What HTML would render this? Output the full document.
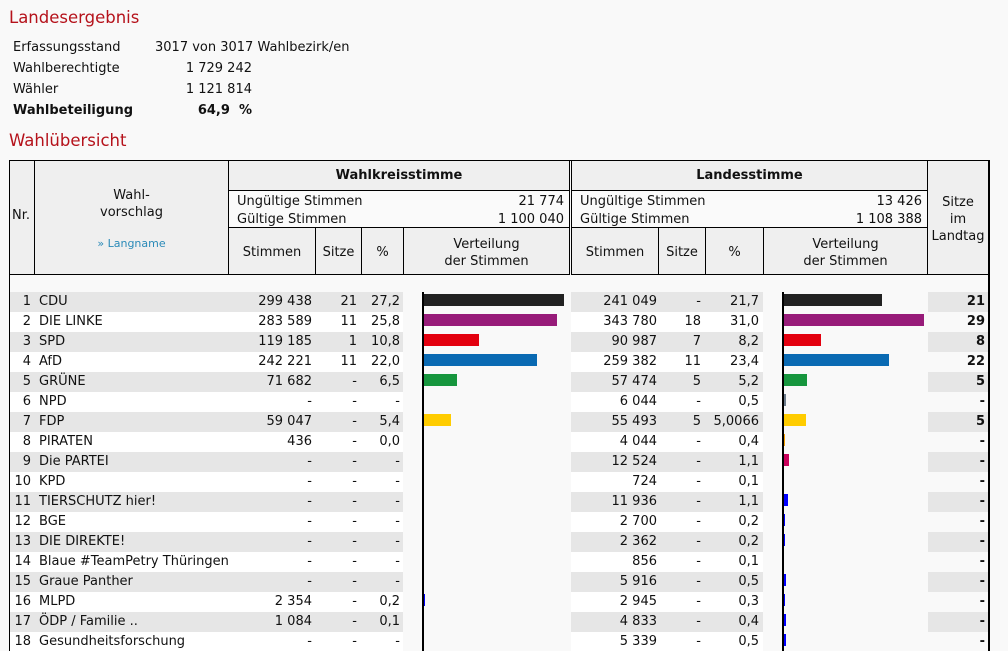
<!DOCTYPE html>
<html><head><meta charset="utf-8"><style>
html,body{margin:0;height:651px;overflow:hidden}
body{width:1008px;background:#f9f9f9;font-family:"DejaVu Sans","Liberation Sans",sans-serif;font-size:13px;color:#111;position:relative}
.a{position:absolute;white-space:nowrap}
h{position:absolute;color:#b5121b;font-size:16.5px;left:9px}
.b{position:absolute;border:1px solid #000;box-sizing:border-box;background:#efefef}
.r{position:absolute;left:0;width:1008px;height:20px;line-height:20px}
.r span{position:absolute;white-space:nowrap}
.g1,.g2,.g3{position:absolute;top:0;height:20px}
.g1{left:10px;width:393px}.g2{left:571px;width:192px}.g3{left:928px;width:60px}
.sh .g1,.sh .g2,.sh .g3{background:#e6e6e6}
.ns .g1,.ns .g2{background:#fff}
.n{left:0;width:31px;text-align:right}.p{left:39px}
.s1{left:228px;width:84px;text-align:right}.z1{left:315px;width:42px;text-align:right}.q1{left:361px;width:39px;text-align:right}
.s2{left:571px;width:86px;text-align:right}.z2{left:658px;width:43px;text-align:right}.q2{left:705px;width:54px;text-align:right}
.t{left:928px;width:57px;text-align:right;font-weight:bold}
.bar{position:absolute;height:12px}
</style></head><body>
<h style="top:8px">Landesergebnis</h>
<div class="a" style="left:13px;top:40px">Erfassungsstand</div><div class="a" style="left:155px;top:40px">3017 von 3017 Wahlbezirk/en</div>
<div class="a" style="left:13px;top:61px">Wahlberechtigte</div><div class="a" style="left:150px;top:61px;width:102px;text-align:right">1 729 242</div>
<div class="a" style="left:13px;top:82px">Wähler</div><div class="a" style="left:150px;top:82px;width:102px;text-align:right">1 121 814</div>
<div class="a" style="left:13px;top:103px;font-weight:bold">Wahlbeteiligung</div><div class="a" style="left:150px;top:103px;width:102px;text-align:right;font-weight:bold">64,9&nbsp; %</div>
<h style="top:131px">Wahlübersicht</h>

<div class="b" style="left:9px;top:160px;width:981px;height:491px;background:#f9f9f9;border-width:1px 2px 0 1px"></div>
<div class="b" style="left:9px;top:160px;width:26px;height:115px"></div>
<div class="a" style="left:12px;top:208px">Nr.</div>
<div class="b" style="left:34px;top:160px;width:195px;height:115px"></div>
<div class="a" style="left:34px;top:187px;width:195px;text-align:center;line-height:17px">Wahl-<br>vorschlag</div>
<div class="a" style="left:34px;top:237px;width:195px;text-align:center;color:#2a8ab8;font-size:11px">» Langname</div>
<div class="b" style="left:228px;top:160px;width:342px;height:31px"></div>
<div class="a" style="left:228px;top:168px;width:342px;text-align:center;font-weight:bold">Wahlkreisstimme</div>
<div class="b" style="left:228px;top:190px;width:342px;height:38px;background:#fafafa"></div>
<div class="a" style="left:237px;top:193px;line-height:18px">Ungültige Stimmen<br>Gültige Stimmen</div>
<div class="a" style="left:440px;top:193px;width:124px;text-align:right;line-height:18px">21 774<br>1 100 040</div>
<div class="b" style="left:228px;top:227px;width:88px;height:48px"></div><div class="a" style="left:228px;top:245px;width:88px;text-align:center">Stimmen</div>
<div class="b" style="left:315px;top:227px;width:47px;height:48px"></div><div class="a" style="left:315px;top:245px;width:47px;text-align:center">Sitze</div>
<div class="b" style="left:361px;top:227px;width:43px;height:48px"></div><div class="a" style="left:361px;top:245px;width:43px;text-align:center">%</div>
<div class="b" style="left:403px;top:227px;width:167px;height:48px"></div><div class="a" style="left:403px;top:236px;width:167px;text-align:center;line-height:17px">Verteilung<br>der Stimmen</div>

<div class="b" style="left:571px;top:160px;width:357px;height:31px"></div>
<div class="a" style="left:571px;top:168px;width:357px;text-align:center;font-weight:bold">Landesstimme</div>
<div class="b" style="left:571px;top:190px;width:357px;height:38px;background:#fafafa"></div>
<div class="a" style="left:580px;top:193px;line-height:18px">Ungültige Stimmen<br>Gültige Stimmen</div>
<div class="a" style="left:780px;top:193px;width:142px;text-align:right;line-height:18px">13 426<br>1 108 388</div>
<div class="b" style="left:571px;top:227px;width:88px;height:48px"></div><div class="a" style="left:571px;top:245px;width:88px;text-align:center">Stimmen</div>
<div class="b" style="left:658px;top:227px;width:48px;height:48px"></div><div class="a" style="left:658px;top:245px;width:48px;text-align:center">Sitze</div>
<div class="b" style="left:705px;top:227px;width:59px;height:48px"></div><div class="a" style="left:705px;top:245px;width:59px;text-align:center">%</div>
<div class="b" style="left:763px;top:227px;width:165px;height:48px"></div><div class="a" style="left:763px;top:236px;width:165px;text-align:center;line-height:17px">Verteilung<br>der Stimmen</div>
<div class="b" style="left:927px;top:160px;width:63px;height:115px;border-right-width:2px"></div>
<div class="a" style="left:927px;top:194px;width:62px;text-align:center;line-height:17px">Sitze<br>im<br>Landtag</div>

<div class="r sh" style="top:292px"><div class="g1"></div><div class="g2"></div><div class="g3"></div><span class="n">1</span><span class="p">CDU</span><span class="s1">299 438</span><span class="z1">21</span><span class="q1">27,2</span><span class="s2">241 049</span><span class="z2">-</span><span class="q2">21,7</span><span class="t">21</span></div>
<div class="r ns" style="top:312px"><div class="g1"></div><div class="g2"></div><span class="n">2</span><span class="p">DIE LINKE</span><span class="s1">283 589</span><span class="z1">11</span><span class="q1">25,8</span><span class="s2">343 780</span><span class="z2">18</span><span class="q2">31,0</span><span class="t">29</span></div>
<div class="r sh" style="top:332px"><div class="g1"></div><div class="g2"></div><div class="g3"></div><span class="n">3</span><span class="p">SPD</span><span class="s1">119 185</span><span class="z1">1</span><span class="q1">10,8</span><span class="s2">90 987</span><span class="z2">7</span><span class="q2">8,2</span><span class="t">8</span></div>
<div class="r ns" style="top:352px"><div class="g1"></div><div class="g2"></div><span class="n">4</span><span class="p">AfD</span><span class="s1">242 221</span><span class="z1">11</span><span class="q1">22,0</span><span class="s2">259 382</span><span class="z2">11</span><span class="q2">23,4</span><span class="t">22</span></div>
<div class="r sh" style="top:372px"><div class="g1"></div><div class="g2"></div><div class="g3"></div><span class="n">5</span><span class="p">GRÜNE</span><span class="s1">71 682</span><span class="z1">-</span><span class="q1">6,5</span><span class="s2">57 474</span><span class="z2">5</span><span class="q2">5,2</span><span class="t">5</span></div>
<div class="r ns" style="top:392px"><div class="g1"></div><div class="g2"></div><span class="n">6</span><span class="p">NPD</span><span class="s1">-</span><span class="z1">-</span><span class="q1">-</span><span class="s2">6 044</span><span class="z2">-</span><span class="q2">0,5</span><span class="t">-</span></div>
<div class="r sh" style="top:412px"><div class="g1"></div><div class="g2"></div><div class="g3"></div><span class="n">7</span><span class="p">FDP</span><span class="s1">59 047</span><span class="z1">-</span><span class="q1">5,4</span><span class="s2">55 493</span><span class="z2">5</span><span class="q2">5,0066</span><span class="t">5</span></div>
<div class="r ns" style="top:432px"><div class="g1"></div><div class="g2"></div><span class="n">8</span><span class="p">PIRATEN</span><span class="s1">436</span><span class="z1">-</span><span class="q1">0,0</span><span class="s2">4 044</span><span class="z2">-</span><span class="q2">0,4</span><span class="t">-</span></div>
<div class="r sh" style="top:452px"><div class="g1"></div><div class="g2"></div><div class="g3"></div><span class="n">9</span><span class="p">Die PARTEI</span><span class="s1">-</span><span class="z1">-</span><span class="q1">-</span><span class="s2">12 524</span><span class="z2">-</span><span class="q2">1,1</span><span class="t">-</span></div>
<div class="r ns" style="top:472px"><div class="g1"></div><div class="g2"></div><span class="n">10</span><span class="p">KPD</span><span class="s1">-</span><span class="z1">-</span><span class="q1">-</span><span class="s2">724</span><span class="z2">-</span><span class="q2">0,1</span><span class="t">-</span></div>
<div class="r sh" style="top:492px"><div class="g1"></div><div class="g2"></div><div class="g3"></div><span class="n">11</span><span class="p">TIERSCHUTZ hier!</span><span class="s1">-</span><span class="z1">-</span><span class="q1">-</span><span class="s2">11 936</span><span class="z2">-</span><span class="q2">1,1</span><span class="t">-</span></div>
<div class="r ns" style="top:512px"><div class="g1"></div><div class="g2"></div><span class="n">12</span><span class="p">BGE</span><span class="s1">-</span><span class="z1">-</span><span class="q1">-</span><span class="s2">2 700</span><span class="z2">-</span><span class="q2">0,2</span><span class="t">-</span></div>
<div class="r sh" style="top:532px"><div class="g1"></div><div class="g2"></div><div class="g3"></div><span class="n">13</span><span class="p">DIE DIREKTE!</span><span class="s1">-</span><span class="z1">-</span><span class="q1">-</span><span class="s2">2 362</span><span class="z2">-</span><span class="q2">0,2</span><span class="t">-</span></div>
<div class="r ns" style="top:552px"><div class="g1"></div><div class="g2"></div><span class="n">14</span><span class="p">Blaue #TeamPetry Thüringen</span><span class="s1">-</span><span class="z1">-</span><span class="q1">-</span><span class="s2">856</span><span class="z2">-</span><span class="q2">0,1</span><span class="t">-</span></div>
<div class="r sh" style="top:572px"><div class="g1"></div><div class="g2"></div><div class="g3"></div><span class="n">15</span><span class="p">Graue Panther</span><span class="s1">-</span><span class="z1">-</span><span class="q1">-</span><span class="s2">5 916</span><span class="z2">-</span><span class="q2">0,5</span><span class="t">-</span></div>
<div class="r ns" style="top:592px"><div class="g1"></div><div class="g2"></div><span class="n">16</span><span class="p">MLPD</span><span class="s1">2 354</span><span class="z1">-</span><span class="q1">0,2</span><span class="s2">2 945</span><span class="z2">-</span><span class="q2">0,3</span><span class="t">-</span></div>
<div class="r sh" style="top:612px"><div class="g1"></div><div class="g2"></div><div class="g3"></div><span class="n">17</span><span class="p">ÖDP / Familie ..</span><span class="s1">1 084</span><span class="z1">-</span><span class="q1">0,1</span><span class="s2">4 833</span><span class="z2">-</span><span class="q2">0,4</span><span class="t">-</span></div>
<div class="r ns" style="top:632px"><div class="g1"></div><div class="g2"></div><span class="n">18</span><span class="p">Gesundheitsforschung</span><span class="s1">-</span><span class="z1">-</span><span class="q1">-</span><span class="s2">5 339</span><span class="z2">-</span><span class="q2">0,5</span><span class="t">-</span></div>

<div class="a" style="left:422px;top:292px;width:2px;height:359px;background:#000"></div>
<div class="a" style="left:782px;top:292px;width:2px;height:359px;background:#000"></div>
<div class="a" style="left:988px;top:160px;width:2px;height:491px;background:#000"></div>

<div class="bar" style="left:424px;top:294px;width:140px;background:#222"></div>
<div class="bar" style="left:424px;top:314px;width:133px;background:#971b79"></div>
<div class="bar" style="left:424px;top:334px;width:55px;background:#e3000f"></div>
<div class="bar" style="left:424px;top:354px;width:113px;background:#0a6ab3"></div>
<div class="bar" style="left:424px;top:374px;width:33px;background:#17963e"></div>
<div class="bar" style="left:424px;top:414px;width:27px;background:#ffcc00"></div>
<div class="bar" style="left:424px;top:594px;width:1px;background:#0000ff"></div>

<div class="bar" style="left:784px;top:294px;width:98px;background:#222"></div>
<div class="bar" style="left:784px;top:314px;width:140px;background:#971b79"></div>
<div class="bar" style="left:784px;top:334px;width:37px;background:#e3000f"></div>
<div class="bar" style="left:784px;top:354px;width:105px;background:#0a6ab3"></div>
<div class="bar" style="left:784px;top:374px;width:23px;background:#17963e"></div>
<div class="bar" style="left:784px;top:394px;width:2px;background:#6c7b8b"></div>
<div class="bar" style="left:784px;top:414px;width:22px;background:#ffcc00"></div>
<div class="bar" style="left:784px;top:434px;width:1px;background:#f5a000"></div>
<div class="bar" style="left:784px;top:454px;width:5px;background:#c8005a"></div>
<div class="bar" style="left:784px;top:494px;width:4px;background:#0000ff"></div>
<div class="bar" style="left:784px;top:514px;width:1px;background:#0000ff"></div>
<div class="bar" style="left:784px;top:534px;width:1px;background:#0000ff"></div>
<div class="bar" style="left:784px;top:574px;width:2px;background:#0000ff"></div>
<div class="bar" style="left:784px;top:594px;width:1px;background:#0000ff"></div>
<div class="bar" style="left:784px;top:614px;width:2px;background:#0000ff"></div>
<div class="bar" style="left:784px;top:634px;width:2px;background:#0000ff"></div>
</body></html>
